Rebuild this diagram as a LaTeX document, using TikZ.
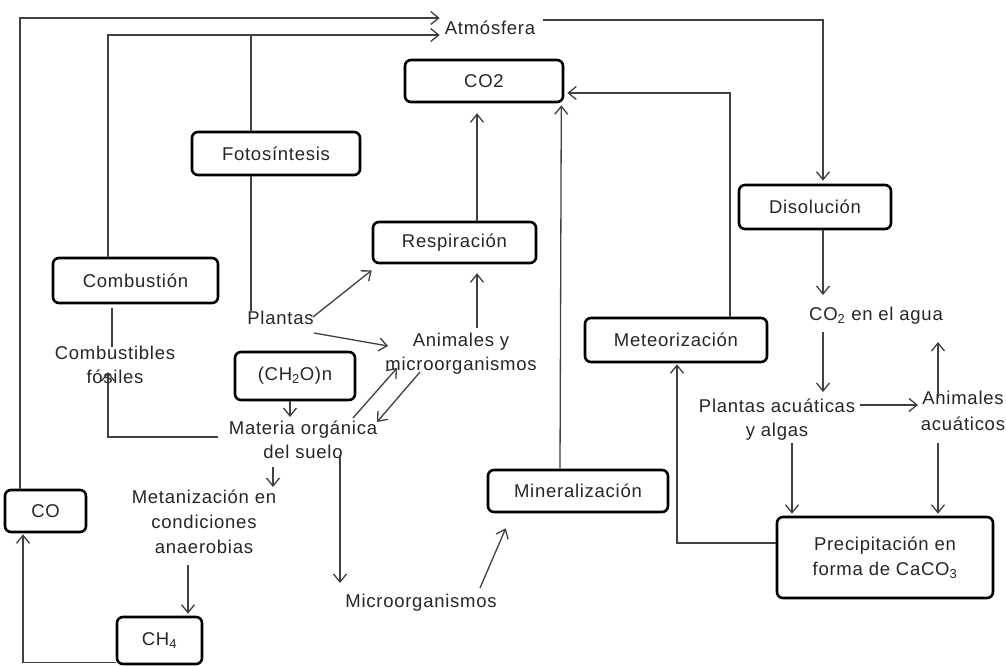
\documentclass[tikz,border=0pt]{standalone}
\usepackage{fontspec}
\setmainfont[LetterSpace=4]{Liberation Sans}
\usetikzlibrary{arrows.meta}
\begin{document}
\begin{tikzpicture}[x=1pt,y=-1pt,
  font=\fontsize{18.5}{24}\selectfont,
  box/.style={draw=black, line width=2.6pt, rounded corners=6pt, inner sep=0pt, text=black!85},
  lbl/.style={inner sep=0pt, align=center, text=black!85},
  arr/.style={draw=black!75, line width=1.3pt, -{Straight Barb[length=8pt,width=13pt]}},
  ln/.style={draw=black!75, line width=1.3pt}]
\fill[white] (0,0) rectangle (1006,666);
\useasboundingbox (0,0) rectangle (1006,666);

% boxes
\node[box, minimum width=158pt, minimum height=42pt] (co2) at (484,81) {CO2};
\node[box, minimum width=168pt, minimum height=43pt] (foto) at (276,153.5) {Fotosíntesis};
\node[box, minimum width=163pt, minimum height=41pt] (resp) at (454.5,242.5) {Respiración};
\node[box, minimum width=165pt, minimum height=45pt] (comb) at (135.5,280.5) {Combustión};
\node[box, minimum width=152pt, minimum height=44pt] (diso) at (815,207) {Disolución};
\node[box, minimum width=120pt, minimum height=48pt] (ch2o) at (295,376) {(CH\textsubscript{2}O)n};
\node[box, minimum width=182pt, minimum height=44pt] (meteo) at (676,340) {Meteorización};
\node[box, minimum width=180pt, minimum height=42pt] (miner) at (578,491) {Mineralización};
\node[box, minimum width=216pt, minimum height=81pt, align=center, font=\fontsize{18.5}{25}\selectfont] (prec) at (885,557.5) {Precipitación en\\forma de CaCO\textsubscript{3}};
\node[box, minimum width=81pt, minimum height=42pt] (co) at (45.5,511) {CO};
\node[box, minimum width=85pt, minimum height=47pt] (ch4) at (159.5,640.5) {CH\textsubscript{4}};

% text labels
\node[lbl] (atm) at (490,28) {Atmósfera};
\node[lbl] (plantas) at (280.5,318) {Plantas};
\node[lbl] (anim) at (461,354) {Animales y\\microorganismos};
\node[lbl] (fosiles) at (115,365) {Combustibles\\fósiles};
\node[lbl] (mat) at (303,440) {Materia orgánica\\del suelo};
\node[lbl, font=\fontsize{18.5}{25}\selectfont] (metan) at (204,522) {Metanización en\\condiciones\\anaerobias};
\node[lbl] (micro) at (421,603) {Microorganismos};
\node[lbl] (co2w) at (876,316) {CO\textsubscript{2} en el agua};
\node[lbl] (plw) at (777,420) {Plantas acuáticas\\y algas};
\node[lbl, font=\fontsize{18.5}{26}\selectfont] (anw) at (963,411) {Animales\\acuáticos};

% helper coordinates
\coordinate (l1) at ([xshift=-5pt,yshift=10pt]atm.west);
\coordinate (l2) at ([xshift=-5pt,yshift=-7pt]atm.west);
\coordinate (f1) at ([xshift=-25pt]foto.north);
\coordinate (f2) at ([xshift=-25pt]foto.south);

% connectors to the atmosphere
\draw[arr] ([xshift=-25.5pt]co.north) |- (l1);
\draw[arr] ([xshift=-27.5pt]comb.north) |- (l2);
\draw[ln] (f1) -- (f1 |- l2);
\draw[ln] (f2) -- (f2 |- plantas.north);
\draw[arr] ([xshift=8pt,yshift=8pt]atm.east) -| ([xshift=8pt,yshift=3pt]diso.north);

% into CO2
\draw[arr] ([xshift=22.5pt]resp.north) -- ([xshift=-7pt,yshift=-10pt]co2.south);
\draw[arr] ([xshift=-18pt]miner.north) -- ([xshift=-3pt,yshift=-2pt]co2.south east);
\draw[arr] ([xshift=54pt]meteo.north) |- ([xshift=3pt,yshift=-12pt]co2.east);

% plants and animals
\draw[arr] ([xshift=32.5pt,yshift=1pt]plantas.center) -- ([yshift=-6pt]resp.south west);
\draw[arr] ([xshift=33.5pt,yshift=-15pt]plantas.center) -- ([xshift=-73pt,yshift=8pt]anim.center);
\draw[arr] ([xshift=16pt,yshift=26pt]anim.center) -- ([xshift=22.5pt,yshift=-9pt]resp.south);

% fossil fuels
\draw[ln] ([xshift=-23.5pt,yshift=-4pt]comb.south) -- ([xshift=-3pt,yshift=18pt]fosiles.center);
\draw[arr] ([xshift=-85pt,yshift=3pt]mat.center) -| ([xshift=-7pt,yshift=-7pt]fosiles.center);

% soil organic matter
\draw[arr] ([xshift=-5pt]ch2o.south) -- ([xshift=-13pt,yshift=23pt]mat.center);
\draw[arr] ([xshift=50pt,yshift=22pt]mat.center) -- ([xshift=-64pt,yshift=-14pt]anim.center);
\draw[arr] ([xshift=-41pt,yshift=-18pt]anim.center) -- ([xshift=74pt,yshift=18pt]mat.center);
\draw[arr] ([xshift=-30pt,yshift=-27pt]mat.center) -- ([xshift=69pt,yshift=35pt]metan.center);
\draw[arr] ([xshift=37pt,yshift=-15pt]mat.center) -- ([xshift=-81pt,yshift=20pt]micro.center);
\draw[arr] ([xshift=-16pt,yshift=-43pt]metan.center) -- ([xshift=28.5pt,yshift=2pt]ch4.north);
\draw[arr] ([yshift=3pt]ch4.south west) -| ([xshift=-22.5pt,yshift=-1pt]co.south);
\draw[arr] ([xshift=59pt,yshift=15pt]micro.center) -- ([xshift=19pt,yshift=-15pt]miner.south west);

% water cycle
\draw[arr] ([yshift=14.5pt]prec.west) -| ([xshift=1pt,yshift=-1pt]meteo.south);
\draw[arr] ([xshift=8pt]diso.south) -- ([xshift=-53pt,yshift=21pt]co2w.center);
\draw[arr] ([xshift=-53pt,yshift=-16pt]co2w.center) -- ([xshift=46pt,yshift=28pt]plw.center);
\draw[arr] ([xshift=83pt,yshift=15pt]plw.center) -- ([xshift=-45pt,yshift=6pt]anw.center);
\draw[arr] ([xshift=-25pt,yshift=13pt]anw.center) -- ([xshift=62pt,yshift=-26pt]co2w.center);
\draw[arr] ([xshift=15pt,yshift=-23pt]plw.center) -- ([xshift=-93pt,yshift=2pt]prec.north);
\draw[arr] ([xshift=-25pt,yshift=-32pt]anw.center) -- ([xshift=53pt,yshift=2pt]prec.north);
\end{tikzpicture}
\end{document}
